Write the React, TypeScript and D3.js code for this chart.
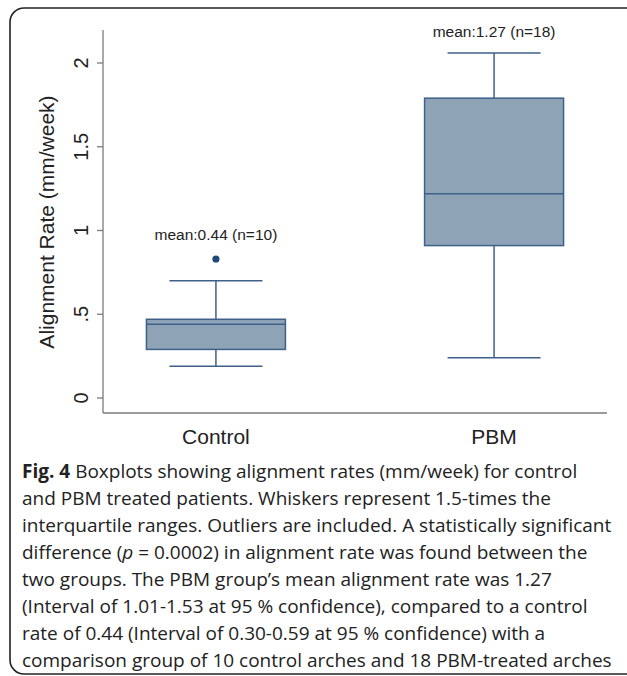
import React from 'react';
import * as d3 from 'd3';

const groups = ['Control', 'PBM'];
const lowWhisker = [0.19, 0.24];
const q1 = [0.29, 0.91];
const median = [0.44, 1.22];
const q3 = [0.47, 1.79];
const highWhisker = [0.7, 2.06];
const outliers = [[0.83], []];
const meanLabels = ['mean:0.44 (n=10)', 'mean:1.27 (n=18)'];
const yTicks = [0, 0.5, 1, 1.5, 2];
const yTickLabels = ['0', '.5', '1', '1.5', '2'];

const captionLines = [
  ['Boxplots showing alignment rates (mm/week) for control'],
  ['and PBM treated patients. Whiskers represent 1.5-times the'],
  ['interquartile ranges. Outliers are included. A statistically significant'],
  ['difference (', 'p', ' = 0.0002) in alignment rate was found between the'],
  ['two groups. The PBM group\u2019s mean alignment rate was 1.27'],
  ['(Interval of 1.01-1.53 at 95 % confidence), compared to a control'],
  ['rate of 0.44 (Interval of 0.30-0.59 at 95 % confidence) with a'],
  ['comparison group of 10 control arches and 18 PBM-treated arches'],
];

const W = 627;
const H = 676;
const plotLeft = 103;
const plotRight = 607;
const plotTop = 30;
const plotBottom = 413;

const fill = '#8fa3b7';
const stroke = '#3d6189';
const axisColor = '#7a7a7a';
const font = 'Liberation Sans, Arial, sans-serif';

export default function App() {
  const y = d3.scaleLinear().domain([0, 2]).range([398, 63]);
  const x = d3.scalePoint<string>().domain(groups).range([plotLeft, plotRight]).padding(0.406);
  const boxW = 139;
  const capW = 93;

  return (
    <svg width={W} height={H} style={{ position: 'absolute', left: 0, top: 0, background: '#fff' }}>
      <rect x={10} y={8} width={660} height={666} rx={14} fill="none" stroke="#222" strokeWidth={1.6} />

      {/* y axis */}
      <line x1={plotLeft} x2={plotLeft} y1={plotTop} y2={plotBottom} stroke={axisColor} strokeWidth={1.3} />
      {yTicks.map((t, i) => (
        <g key={t} transform={`translate(${plotLeft},${y(t)})`}>
          <line x1={-6} x2={0} stroke={axisColor} strokeWidth={1.3} />
          <text transform="translate(-15,0) rotate(-90)" textAnchor="middle" fontFamily={font} fontSize={20} fill="#222">
            {yTickLabels[i]}
          </text>
        </g>
      ))}
      <text transform={`translate(54,222) rotate(-90)`} textAnchor="middle" fontFamily={font} fontSize={21} fill="#222">
        Alignment Rate (mm/week)
      </text>

      {/* x axis */}
      <line x1={plotLeft} x2={plotRight} y1={plotBottom} y2={plotBottom} stroke={axisColor} strokeWidth={1.3} />
      {groups.map((g) => (
        <text key={g} x={x(g)} y={444} textAnchor="middle" fontFamily={font} fontSize={21} fill="#222">
          {g}
        </text>
      ))}

      {/* boxes */}
      {groups.map((g, i) => {
        const cx = x(g) as number;
        return (
          <g key={g}>
            <line x1={cx} x2={cx} y1={y(highWhisker[i])} y2={y(q3[i])} stroke={stroke} strokeWidth={1.5} />
            <line x1={cx} x2={cx} y1={y(q1[i])} y2={y(lowWhisker[i])} stroke={stroke} strokeWidth={1.5} />
            <line x1={cx - capW / 2} x2={cx + capW / 2} y1={y(highWhisker[i])} y2={y(highWhisker[i])} stroke={stroke} strokeWidth={1.5} />
            <line x1={cx - capW / 2} x2={cx + capW / 2} y1={y(lowWhisker[i])} y2={y(lowWhisker[i])} stroke={stroke} strokeWidth={1.5} />
            <rect x={cx - boxW / 2} y={y(q3[i])} width={boxW} height={y(q1[i]) - y(q3[i])} fill={fill} stroke={stroke} strokeWidth={1.5} />
            <line x1={cx - boxW / 2} x2={cx + boxW / 2} y1={y(median[i])} y2={y(median[i])} stroke={stroke} strokeWidth={1.5} />
            {outliers[i].map((o, j) => (
              <circle key={j} cx={cx} cy={y(o)} r={3.6} fill="#1f4a78" />
            ))}
            <text x={cx} y={y(highWhisker[i]) - (i === 0 ? 41 : 16)} textAnchor="middle" fontFamily={font} fontSize={15.5} fill="#222">
              {meanLabels[i]}
            </text>
          </g>
        );
      })}

      {/* caption */}
      <text fontFamily="Open Sans, sans-serif" fontSize={19} fill="#222">
        {captionLines.map((parts, li) => (
          <tspan key={li} x={22} y={478 + li * 27}>
            {li === 0 && <tspan fontWeight="bold">Fig. 4 </tspan>}
            {parts.map((p, k) =>
              p === 'p' ? (
                <tspan key={k} fontStyle="italic">p</tspan>
              ) : (
                <tspan key={k}>{p}</tspan>
              )
            )}
          </tspan>
        ))}
      </text>
    </svg>
  );
}
